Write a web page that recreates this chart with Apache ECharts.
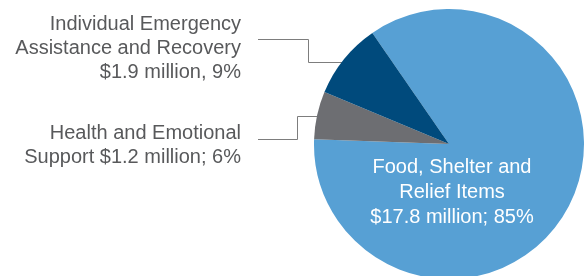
<!DOCTYPE html>
<html>
<head>
<meta charset="utf-8">
<script src="https://cdn.jsdelivr.net/npm/echarts@6/dist/echarts.min.js"></script>
<style>
  html, body { margin: 0; padding: 0; background: #fff; }
  #chart { width: 587px; height: 276px; }
</style>
</head>
<body>
<div id="chart"></div>
<script>
// data
const categories = ['Food, Shelter and Relief Items', 'Health and Emotional Support', 'Individual Emergency Assistance and Recovery'];
const amounts = [17.8, 1.2, 1.9]; // $ million
const labelTexts = [
  'Food, Shelter and\nRelief Items\n$17.8 million; 85%',
  'Health and Emotional\nSupport $1.2 million; 6%',
  'Individual Emergency\nAssistance and Recovery\n$1.9 million, 9%'
];
const colors = ['#57a0d4', '#6d6e72', '#004a7c'];

// layout for the pie and labels (pixels)
const CX = 449, CY = 144, R = 135;
const labelPos = [
  { x: 452, y: 192 },
  { x: 241, y: 145, startY: 116.5, lineY: 139.5, elbowX: 297.5 },
  { x: 241, y: 48, startY: 62.5, lineY: 39.5, elbowX: 308.5 }
];
const lineEndX = 258;

let seriesData = categories.map((name, i) => ({
  name: name,
  value: amounts[i],
  itemStyle: { color: colors[i] },
  label: i === 0
    ? { color: '#fff', lineHeight: 25 }
    : { color: '#58595b', lineHeight: 24, align: 'right' },
  labelLine: { show: i !== 0 }
}));

let option = {
  animation: false,
  series: [{
    type: 'pie',
    center: [CX, CY],
    radius: R,
    startAngle: 124.6,
    clockwise: true,
    avoidLabelOverlap: false,
    itemStyle: { borderWidth: 0 },
    label: {
      show: true,
      position: 'outside',
      fontFamily: 'Liberation Sans, Arial, sans-serif',
      fontSize: 20,
      formatter: p => labelTexts[p.dataIndex]
    },
    labelLine: {
      lineStyle: { color: '#7d7d7d', width: 1 }
    },
    labelLayout: function (params) {
      let i = params.dataIndex;
      let pos = labelPos[i];
      if (i === 0) {
        return { x: pos.x, y: pos.y, align: 'center', verticalAlign: 'middle' };
      }
      // start the guide line on the slice's outer edge
      let dy = pos.startY - CY;
      let sx = CX - Math.sqrt(R * R - dy * dy) + 1;
      return {
        x: pos.x,
        y: pos.y,
        align: 'right',
        verticalAlign: 'middle',
        labelLinePoints: [
          [sx, pos.startY],
          [pos.elbowX, pos.startY],
          [pos.elbowX, pos.lineY],
          [lineEndX, pos.lineY]
        ]
      };
    },
    data: seriesData
  }]
};

let myChart = echarts.init(document.getElementById('chart'));
myChart.setOption(option);
</script>
</body>
</html>
